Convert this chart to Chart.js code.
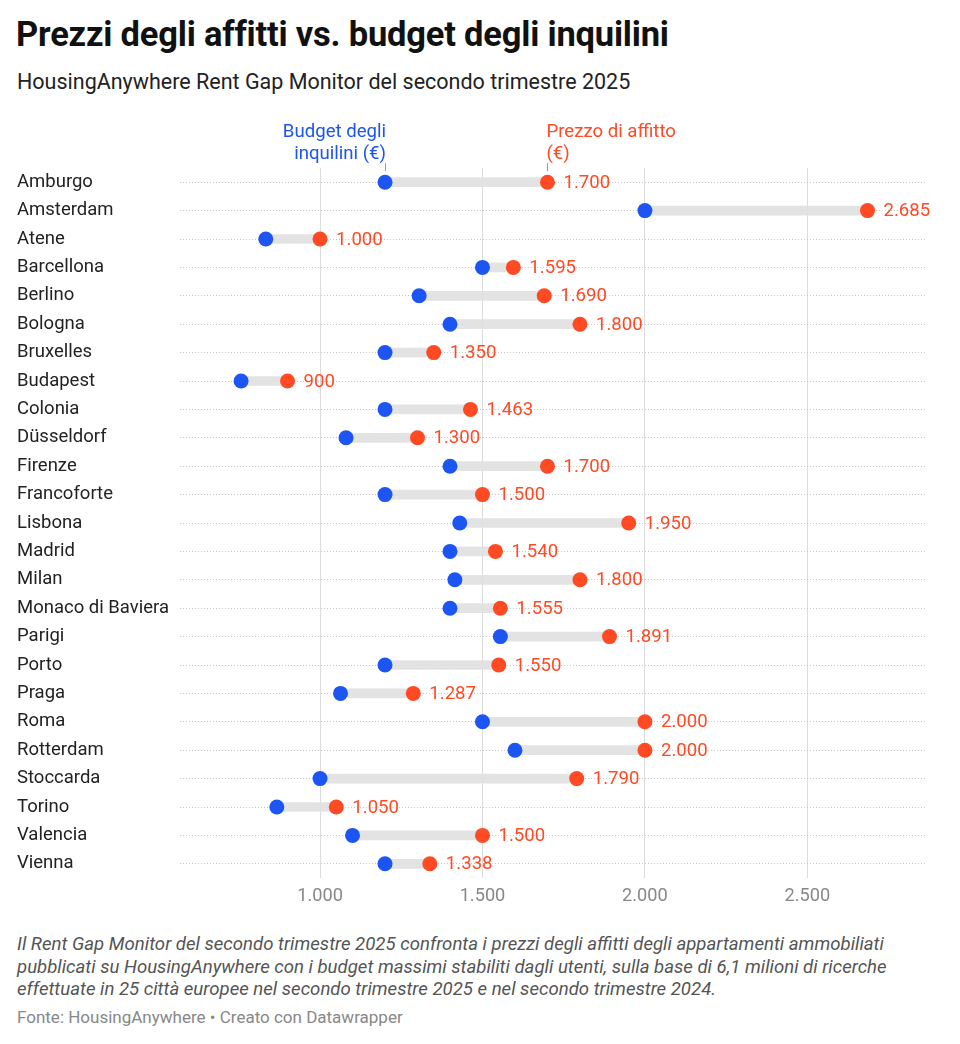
<!DOCTYPE html>
<html>
<head>
<meta charset="utf-8">
<script src="https://cdn.jsdelivr.net/npm/chart.js@4"></script>
<style>
  html, body { margin:0; padding:0; background:#fff; }
  body { width:960px; height:1044px; position:relative; font-family: Roboto, "Noto Sans", sans-serif; overflow:hidden; }
  #title { position:absolute; left:16px; top:14px; font-size:34.5px; font-weight:700; color:#111; letter-spacing:-0.2px; }
  #subtitle { position:absolute; left:17px; top:69px; font-size:21.5px; color:#222; }
  #wrap { position:absolute; left:0; top:100px; width:960px; height:820px; }
  #notes { position:absolute; left:17px; top:933px; width:935px; font-size:18.6px; line-height:22.5px; font-style:italic; color:#555; }
  #source { position:absolute; left:17px; top:1007px; font-size:17px; color:#888; }
</style>
</head>
<body>
<div id="title">Prezzi degli affitti vs. budget degli inquilini</div>
<div id="subtitle">HousingAnywhere Rent Gap Monitor del secondo trimestre 2025</div>
<div id="wrap"><canvas id="c" width="960" height="820"></canvas></div>
<div id="notes">Il Rent Gap Monitor del secondo trimestre 2025 confronta i prezzi degli affitti degli appartamenti ammobiliati pubblicati su HousingAnywhere con i budget massimi stabiliti dagli utenti, sulla base di 6,1 milioni di ricerche effettuate in 25 città europee nel secondo trimestre 2025 e nel secondo trimestre 2024.</div>
<div id="source">Fonte: HousingAnywhere • Creato con Datawrapper</div>
<script>
const cities = ["Amburgo","Amsterdam","Atene","Barcellona","Berlino","Bologna","Bruxelles","Budapest","Colonia","Düsseldorf","Firenze","Francoforte","Lisbona","Madrid","Milan","Monaco di Baviera","Parigi","Porto","Praga","Roma","Rotterdam","Stoccarda","Torino","Valencia","Vienna"];
const rentPrice = [1700,2685,1000,1595,1690,1800,1350,900,1463,1300,1700,1500,1950,1540,1800,1555,1891,1550,1287,2000,2000,1790,1050,1500,1338];
const tenantBudget = [1200,2000,833,1500,1305,1400,1200,757,1200,1080,1400,1200,1430,1400,1415,1400,1555,1200,1063,1500,1600,1000,867,1100,1200];
const xTicks = [1000,1500,2000,2500];
const legendBudget = ["Budget degli","inquilini (€)"];
const legendRent = ["Prezzo di affitto","(€)"];

const BLUE = "#1c55f2";
const RED = "#ff4a24";
const fmt = v => String(Math.round(v)).replace(/\B(?=(\d{3})+(?!\d))/g, ".");

const labelPlugin = {
  id: "labels",
  afterDatasetsDraw(chart) {
    const ctx = chart.ctx;
    const meta = chart.getDatasetMeta(2);
    ctx.save();
    ctx.font = "18.6px Roboto";
    ctx.fillStyle = RED;
    ctx.textAlign = "left";
    ctx.textBaseline = "middle";
    meta.data.forEach((pt, i) => {
      ctx.fillText(fmt(rentPrice[i]), pt.x + 16, pt.y + 1);
    });
    const xs = chart.scales.x;
    const ys = chart.scales.y;
    const y0 = ys.getPixelForValue(0);
    const bx = xs.getPixelForValue(tenantBudget[0]);
    const rx = xs.getPixelForValue(rentPrice[0]);
    ctx.font = "18.6px Roboto";
    ctx.textBaseline = "alphabetic";
    ctx.fillStyle = BLUE;
    ctx.textAlign = "right";
    ctx.fillText(legendBudget[0], bx + 1, y0 - 45);
    ctx.fillText(legendBudget[1], bx + 1, y0 - 23);
    ctx.fillStyle = RED;
    ctx.textAlign = "left";
    ctx.fillText(legendRent[0], rx - 1, y0 - 45);
    ctx.fillText(legendRent[1], rx - 1, y0 - 23);
    ctx.strokeStyle = "#999";
    ctx.lineWidth = 1;
    ctx.beginPath();
    ctx.moveTo(Math.round(bx) + 0.5, y0 - 19); ctx.lineTo(Math.round(bx) + 0.5, y0 - 11);
    ctx.moveTo(Math.round(rx) + 0.5, y0 - 19); ctx.lineTo(Math.round(rx) + 0.5, y0 - 11);
    ctx.stroke();
    ctx.restore();
  }
};

new Chart(document.getElementById("c"), {
  type: "bar",
  data: {
    labels: cities,
    datasets: [
      {
        type: "bar",
        data: cities.map((c, i) => [tenantBudget[i], rentPrice[i]]),
        backgroundColor: "rgba(224,224,224,0.9)",
        barThickness: 9,
        order: 3
      },
      {
        type: "line",
        data: tenantBudget,
        showLine: false,
        pointRadius: 7.5,
        pointHoverRadius: 7.5,
        pointBackgroundColor: BLUE,
        pointBorderWidth: 0,
        order: 2
      },
      {
        type: "line",
        data: rentPrice,
        showLine: false,
        pointRadius: 7.5,
        pointHoverRadius: 7.5,
        pointBackgroundColor: RED,
        pointBorderWidth: 0,
        order: 1
      }
    ]
  },
  options: {
    indexAxis: "y",
    responsive: false,
    animation: false,
    devicePixelRatio: 1,
    layout: { padding: { left: 17, right: 35, top: 68, bottom: 0 } },
    plugins: { legend: { display: false }, tooltip: { enabled: false } },
    scales: {
      x: {
        type: "linear",
        min: 569,
        max: 2862,
        afterBuildTicks: s => { s.ticks = xTicks.map(v => ({ value: v })); },
        afterFit: s => { s.height = 42; },
        grid: { color: "#dcdcdc", lineWidth: 1, drawTicks: false },
        border: { display: false },
        ticks: {
          padding: 8,
          color: "#888",
          font: { family: "Roboto", size: 18.2 },
          callback: v => fmt(v)
        }
      },
      y: {
        type: "category",
        offset: true,
        afterFit: s => { s.width = 163; },
        grid: { offset: false, color: "#c8c8c8", lineWidth: 1, drawTicks: false },
        border: { display: false, dash: [1, 2] },
        ticks: {
          crossAlign: "far",
          color: "#222",
          padding: 0,
          font: { family: "Roboto", size: 18.5 }
        }
      }
    }
  },
  plugins: [labelPlugin]
});
</script>
</body>
</html>
